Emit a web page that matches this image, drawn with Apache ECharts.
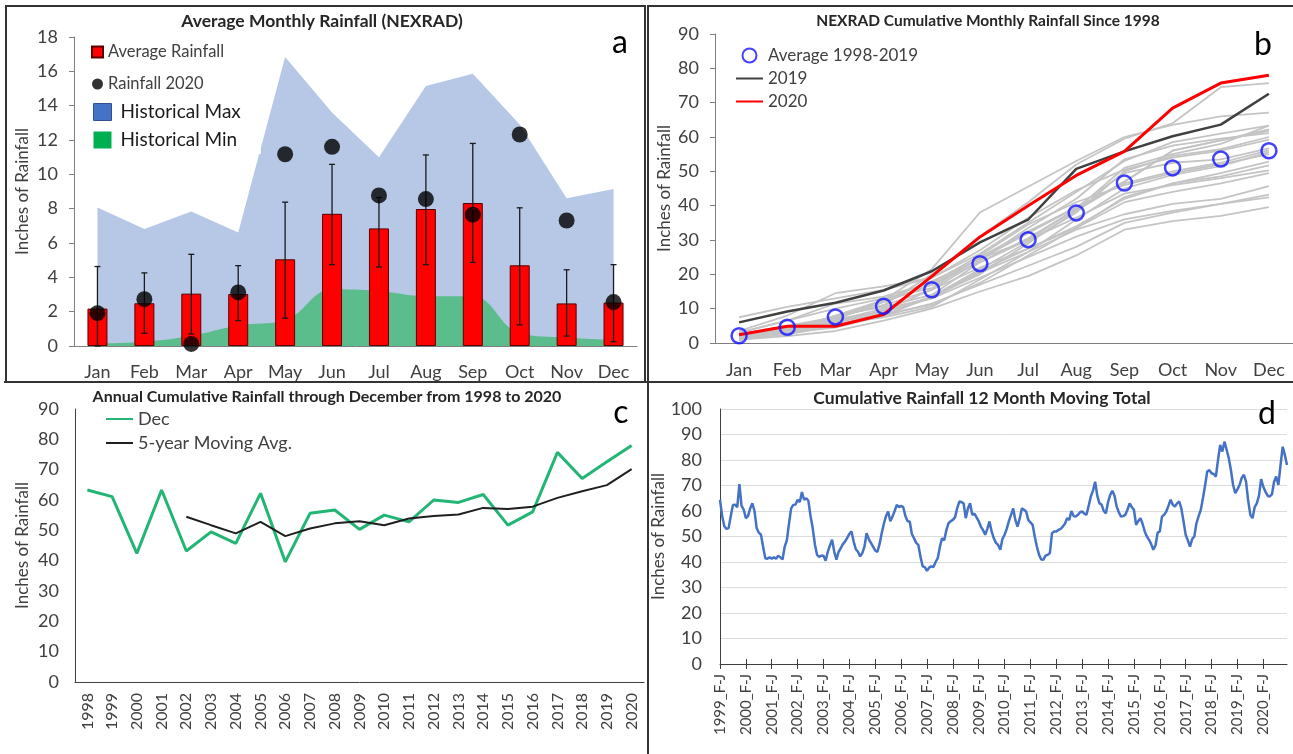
<!DOCTYPE html>
<html>
<head>
<meta charset="utf-8">
<script src="https://cdn.jsdelivr.net/npm/echarts@6/dist/echarts.min.js"></script>
<style>
  html, body { margin: 0; padding: 0; background: #fff; }
  #chart { width: 1293px; height: 754px; }
</style>
</head>
<body>
<div id="chart"></div>
<script>
// ---------- Panel a: average monthly rainfall ----------
const months = ['Jan', 'Feb', 'Mar', 'Apr', 'May', 'Jun', 'Jul', 'Aug', 'Sep', 'Oct', 'Nov', 'Dec'];
const avgRain  = [2.18, 2.49, 3.05, 3.03, 5.05, 7.70, 6.85, 7.98, 8.33, 4.70, 2.48, 2.53];
const errLow   = [0.00, 0.74, 0.70, 1.48, 1.62, 4.74, 4.60, 4.74, 4.87, 1.23, 0.58, 0.25];
const errHigh  = [4.63, 4.26, 5.34, 4.68, 8.38, 10.58, 8.65, 11.13, 11.80, 8.05, 4.44, 4.74];
const rain2020 = [1.91, 2.73, 0.12, 3.12, 11.17, 11.60, 8.77, 8.56, 7.65, 12.32, 7.31, 2.56];
const histMax  = [8.07, 6.81, 7.84, 6.61, 16.83, 13.60, 11.00, 15.14, 15.86, 12.90, 8.60, 9.14];
const histMin  = [0.15, 0.25, 0.60, 1.20, 1.50, 3.30, 3.20, 2.90, 2.90, 0.75, 0.50, 0.35];

// ---------- Panel b: cumulative monthly rainfall ----------
const avg9819 = [2.1, 4.6, 7.6, 10.7, 15.5, 23.1, 30.1, 37.9, 46.6, 51.0, 53.6, 56.0];
const cum2019 = [6.0, 9.2, 11.7, 15.3, 20.9, 29.3, 35.9, 50.7, 55.8, 60.2, 63.6, 72.6];
const cum2020 = [2.4, 4.9, 4.9, 8.3, 19.4, 30.9, 40.0, 48.8, 55.8, 68.4, 75.7, 78.0];
const pastYearLabels = ['1998', '1999', '2000', '2001', '2002', '2003', '2004', '2005', '2006', '2007',
  '2008', '2009', '2010', '2011', '2012', '2013', '2014', '2015', '2016', '2017', '2018'];
const pastYears = [
  [3.5, 8.0, 14.5, 16.5, 19.0, 26.0, 35.0, 44.0, 53.0, 58.5, 61.0, 63.3],
  [1.5, 3.5, 6.0, 9.5, 15.5, 24.0, 33.5, 42.0, 53.5, 57.5, 59.5, 61.1],
  [1.0, 2.5, 5.0, 8.0, 11.5, 17.0, 22.5, 28.0, 35.0, 38.0, 40.5, 42.4],
  [2.0, 3.5, 8.0, 10.5, 14.0, 23.5, 30.0, 39.0, 51.0, 55.0, 58.0, 63.3],
  [2.5, 4.0, 6.5, 10.0, 13.0, 19.0, 25.0, 31.0, 36.0, 38.5, 40.5, 43.2],
  [0.8, 3.5, 7.0, 9.0, 13.0, 21.0, 27.5, 33.5, 41.0, 44.0, 46.5, 49.5],
  [2.0, 3.0, 4.5, 8.0, 13.5, 20.5, 26.5, 33.0, 37.5, 40.5, 42.0, 45.7],
  [1.5, 3.5, 6.5, 9.0, 13.5, 20.0, 29.0, 38.5, 47.0, 56.0, 59.0, 62.2],
  [1.0, 2.0, 3.5, 6.5, 10.0, 15.0, 19.5, 25.5, 33.0, 35.5, 37.0, 39.6],
  [1.5, 3.0, 5.5, 7.5, 10.5, 18.5, 26.5, 36.0, 45.0, 49.0, 51.5, 55.6],
  [3.0, 6.5, 10.0, 13.0, 16.0, 25.0, 32.5, 39.5, 49.5, 52.5, 53.5, 56.7],
  [2.0, 3.5, 8.0, 12.5, 18.0, 24.5, 30.0, 36.5, 43.5, 46.0, 48.0, 50.3],
  [3.0, 6.5, 11.5, 13.5, 17.5, 25.5, 34.5, 41.0, 46.0, 49.5, 52.0, 55.0],
  [1.5, 3.5, 6.0, 8.5, 11.0, 17.5, 25.5, 33.5, 42.5, 46.5, 49.5, 52.8],
  [1.5, 3.0, 5.5, 8.0, 13.5, 21.5, 29.5, 38.0, 50.0, 54.5, 56.5, 60.0],
  [7.5, 10.5, 13.0, 15.5, 19.0, 27.0, 36.5, 44.5, 50.5, 54.0, 56.0, 59.2],
  [1.5, 3.5, 7.0, 12.0, 17.0, 23.5, 30.5, 39.0, 47.0, 56.0, 59.0, 61.8],
  [2.5, 5.0, 7.5, 11.0, 15.5, 22.0, 27.5, 34.0, 42.0, 46.5, 48.5, 51.7],
  [2.5, 4.5, 7.0, 12.0, 17.0, 24.5, 32.0, 39.5, 46.5, 50.0, 52.5, 56.1],
  [1.5, 4.0, 7.5, 11.0, 20.0, 31.0, 41.0, 52.0, 59.5, 64.0, 74.5, 75.7],
  [1.5, 4.5, 7.5, 12.5, 21.5, 38.0, 45.5, 53.0, 60.0, 63.5, 66.0, 67.1]
];

// ---------- Panel c: annual totals ----------
const years = ['1998', '1999', '2000', '2001', '2002', '2003', '2004', '2005', '2006', '2007', '2008', '2009',
  '2010', '2011', '2012', '2013', '2014', '2015', '2016', '2017', '2018', '2019', '2020'];
const decTotal = [63.3, 61.1, 42.4, 63.3, 43.2, 49.5, 45.7, 62.2, 39.6, 55.6, 56.7, 50.3,
  55.0, 52.8, 60.0, 59.2, 61.8, 51.7, 56.1, 75.7, 67.1, 72.6, 78.0];
const movAvg5 = [null, null, null, null, 54.5, 51.7, 49.0, 52.8, 48.1, 50.6, 52.3, 53.0,
  51.7, 53.9, 54.7, 55.2, 57.4, 57.0, 57.8, 60.7, 62.9, 64.9, 70.2];

// ---------- Panel d: 12-month moving total ----------
const windowYears = ['1999', '2000', '2001', '2002', '2003', '2004', '2005', '2006', '2007', '2008', '2009',
  '2010', '2011', '2012', '2013', '2014', '2015', '2016', '2017', '2018', '2019', '2020'];
const windowCodes = ['F-J', 'M-F', 'A-M', 'M-A', 'J-M', 'J-J', 'A-J', 'S-A', 'O-S', 'N-O', 'D-N', 'J-D'];
const movingTotal = [
  64.4, 58.0, 54.0, 53.0, 53.3, 58.0, 62.4, 62.5, 61.5, 70.5, 62.0, 60.5,
  57.2, 58.0, 61.0, 63.0, 60.0, 53.3, 51.5, 50.7, 46.0, 41.5, 41.3, 41.8,
  41.3, 41.8, 41.3, 42.5, 41.8, 41.0, 46.0, 48.5, 55.0, 61.0, 62.4, 62.5,
  64.4, 63.5, 67.4, 64.4, 65.0, 64.0, 58.0, 53.3, 47.0, 42.8, 42.0, 42.5,
  42.5, 40.5, 44.0, 46.5, 48.7, 44.0, 40.9, 44.0, 45.4, 47.0, 48.0, 49.5,
  51.0, 52.0, 48.0, 45.0, 44.0, 42.2, 43.5, 46.0, 51.3, 49.0, 47.5, 46.0,
  44.5, 44.0, 47.0, 51.3, 55.0, 58.0, 59.8, 56.0, 57.8, 60.0, 62.4, 61.5,
  62.0, 61.5, 58.0, 56.0, 55.9, 51.0, 49.3, 47.5, 46.7, 42.0, 38.3, 38.0,
  36.5, 37.8, 38.3, 38.0, 40.0, 41.5, 46.0, 49.3, 48.5, 52.5, 55.2, 56.0,
  56.5, 57.5, 61.0, 63.7, 63.5, 63.0, 57.2, 61.0, 63.0, 58.5, 59.0, 57.5,
  56.0, 53.9, 52.5, 50.7, 53.0, 55.9, 52.0, 49.3, 47.5, 46.7, 44.8, 49.0,
  50.7, 53.0, 56.0, 58.5, 61.0, 56.5, 53.9, 57.0, 61.0, 60.5, 59.8, 56.5,
  55.5, 54.6, 50.0, 46.0, 42.8, 41.0, 40.9, 42.5, 42.8, 43.5, 51.3, 52.0,
  52.0, 52.6, 53.0, 53.9, 55.0, 57.2, 56.5, 60.0, 58.0, 57.8, 58.5, 59.5,
  59.8, 59.0, 58.5, 62.0, 65.7, 68.0, 71.5, 66.0, 63.0, 62.5, 60.0, 59.1,
  63.5, 66.3, 67.9, 66.0, 61.7, 59.5, 57.8, 58.0, 58.5, 60.5, 63.0, 61.5,
  60.5, 54.6, 56.0, 57.2, 55.0, 52.0, 50.0, 48.7, 47.0, 44.8, 46.5, 51.5,
  52.0, 57.8, 58.5, 59.8, 62.0, 64.4, 62.5, 61.7, 63.0, 63.7, 61.0, 56.0,
  50.7, 48.5, 46.0, 49.0, 50.0, 55.2, 58.0, 60.4, 65.0, 70.0, 75.5, 76.0,
  74.8, 74.5, 73.5, 80.0, 85.9, 83.3, 87.2, 84.0, 80.7, 76.0, 70.2, 67.0,
  68.5, 70.2, 73.0, 74.2, 71.5, 64.0, 58.5, 57.2, 61.5, 63.0, 66.0, 72.5,
  69.5, 67.6, 66.0, 65.7, 66.5, 71.5, 73.5, 70.2, 78.0, 85.2, 82.0, 78.0
];
const windowLabels = [];
windowYears.forEach(y => windowCodes.forEach(c => windowLabels.push(y + '_' + c)));

// ---------- shared styles ----------
const FONT = 'Lato, "Open Sans", "DejaVu Sans", sans-serif';
const TXT = '#404040';
const AXIS = '#7f7f7f';

function valueAxis(grid, max, interval, nameGap, extra) {
  return Object.assign({
    type: 'value', gridIndex: grid, min: 0, max: max, interval: interval,
    name: 'Inches of Rainfall', nameLocation: 'middle', nameGap: nameGap,
    nameTextStyle: { fontSize: 17, color: TXT, fontFamily: FONT },
    axisLine: { show: true, lineStyle: { color: AXIS, width: 1 } },
    axisTick: { show: true, length: 5, lineStyle: { color: AXIS } },
    axisLabel: { fontSize: 18, color: TXT, fontFamily: FONT, margin: 16 },
    splitLine: { show: false }
  }, extra || {});
}

const chart = echarts.init(document.getElementById('chart'), null, { renderer: 'canvas' });

const grayLines = pastYears.map((vals, i) => ({
  name: pastYearLabels[i], type: 'line', xAxisIndex: 1, yAxisIndex: 1,
  data: vals, symbol: 'none', silent: true, z: 2,
  lineStyle: { color: '#c4c4c4', width: 1.8 }
}));

const hideSymbol = { opacity: 0 };

const option = {
  animation: false,
  backgroundColor: '#ffffff',
  textStyle: { fontFamily: FONT },
  title: [
    { text: 'Average Monthly Rainfall (NEXRAD)', left: 322, top: 12, textAlign: 'center', padding: 0,
      textStyle: { fontSize: 17.5, fontWeight: 'bold', color: '#262626', fontFamily: FONT } },
    { text: 'NEXRAD Cumulative Monthly Rainfall Since 1998', left: 988, top: 13, textAlign: 'center', padding: 0,
      textStyle: { fontSize: 15.5, fontWeight: 'bold', color: '#262626', fontFamily: FONT } },
    { text: 'Annual Cumulative Rainfall through December from 1998 to 2020', left: 327, top: 389, textAlign: 'center', padding: 0,
      textStyle: { fontSize: 16, fontWeight: 'bold', color: '#262626', fontFamily: FONT } },
    { text: 'Cumulative Rainfall 12 Month Moving Total', left: 982, top: 389, textAlign: 'center', padding: 0,
      textStyle: { fontSize: 17.5, fontWeight: 'bold', color: '#262626', fontFamily: FONT } },
    { text: 'a', left: 620, top: 27, textAlign: 'center', padding: 0, textStyle: { fontSize: 32, fontWeight: 'normal', color: '#000', fontFamily: FONT } },
    { text: 'b', left: 1263, top: 29, textAlign: 'center', padding: 0, textStyle: { fontSize: 32, fontWeight: 'normal', color: '#000', fontFamily: FONT } },
    { text: 'c', left: 621, top: 397, textAlign: 'center', padding: 0, textStyle: { fontSize: 32, fontWeight: 'normal', color: '#000', fontFamily: FONT } },
    { text: 'd', left: 1267, top: 398, textAlign: 'center', padding: 0, textStyle: { fontSize: 32, fontWeight: 'normal', color: '#000', fontFamily: FONT } }
  ],
  legend: [
    { left: 91, top: 43, orient: 'vertical', itemGap: 14, itemWidth: 11, itemHeight: 11, padding: 0,
      textStyle: { fontSize: 16.5, color: TXT, fontFamily: FONT, lineHeight: 18 },
      data: [{ name: 'Average Rainfall', icon: 'rect' }, { name: 'Rainfall 2020', icon: 'circle' }] },
    { left: 90, top: 98, orient: 'vertical', itemGap: 8, itemWidth: 18, itemHeight: 17,
      padding: [4, 20, 4, 3], backgroundColor: '#ffffff',
      textStyle: { fontSize: 19, color: '#1a1a1a', fontFamily: FONT, lineHeight: 20, padding: [0, 0, 0, 4] },
      data: [
        { name: 'Historical Max', icon: 'rect', itemStyle: { color: '#4472c4', borderColor: '#2f528f', borderWidth: 1 } },
        { name: 'Historical Min', icon: 'rect', itemStyle: { color: '#00b050', borderWidth: 0 } }
      ] },
    { left: 735, top: 47, orient: 'vertical', itemGap: 6, itemWidth: 27, itemHeight: 14, padding: 0,
      textStyle: { fontSize: 17, color: TXT, fontFamily: FONT, lineHeight: 16 },
      data: [{ name: 'Average 1998-2019' }, { name: '2019', itemStyle: hideSymbol }, { name: '2020', itemStyle: hideSymbol }] },
    { left: 105, top: 410, orient: 'vertical', itemGap: 6, itemWidth: 27, itemHeight: 14, padding: 0,
      textStyle: { fontSize: 18, color: TXT, fontFamily: FONT, lineHeight: 16 },
      data: [{ name: 'Dec', itemStyle: hideSymbol }, { name: '5-year Moving Avg.', itemStyle: hideSymbol }] }
  ],
  grid: [
    { left: 74, top: 37, width: 563, height: 309 },
    { left: 715, top: 34, width: 578, height: 309 },
    { left: 75, top: 409, width: 569, height: 273 },
    { left: 720, top: 409, width: 567, height: 255 }
  ],
  xAxis: [
    { type: 'category', gridIndex: 0, data: months, boundaryGap: true,
      axisLine: { lineStyle: { color: AXIS } }, axisTick: { length: 6, lineStyle: { color: AXIS } },
      axisLabel: { fontSize: 18, color: TXT, fontFamily: FONT, margin: 17 } },
    { type: 'category', gridIndex: 1, data: months, boundaryGap: true,
      axisLine: { lineStyle: { color: AXIS } }, axisTick: { length: 6, lineStyle: { color: AXIS } },
      axisLabel: { fontSize: 18, color: TXT, fontFamily: FONT, margin: 18 } },
    { type: 'category', gridIndex: 2, data: years, boundaryGap: true, position: 'bottom',
      axisLine: { lineStyle: { color: '#404040' } }, axisTick: { length: 5, lineStyle: { color: '#404040' } },
      axisLabel: { fontSize: 16, color: TXT, fontFamily: FONT, rotate: 90, margin: 11 } },
    { type: 'category', gridIndex: 2, data: years, boundaryGap: true, position: 'bottom',
      axisLine: { show: false }, axisLabel: { show: false },
      axisTick: { inside: true, length: 5, lineStyle: { color: '#404040' } } },
    { type: 'category', gridIndex: 3, data: windowLabels, boundaryGap: false, position: 'bottom',
      axisLine: { lineStyle: { color: '#404040' } },
      axisTick: { interval: 11, length: 5, lineStyle: { color: '#404040' } },
      axisLabel: { interval: 11, fontSize: 15, color: TXT, fontFamily: FONT, rotate: 90, margin: 10 } },
    { type: 'category', gridIndex: 3, data: windowLabels, boundaryGap: false, position: 'bottom',
      axisLine: { show: false }, axisLabel: { show: false },
      axisTick: { interval: 11, inside: true, length: 5, lineStyle: { color: '#404040' } } }
  ],
  yAxis: [
    valueAxis(0, 18, 2, 43),
    valueAxis(1, 90, 10, 42),
    valueAxis(2, 90, 10, 44, { axisLine: { show: true, lineStyle: { color: '#404040' } }, axisTick: { show: false } }),
    valueAxis(3, 100, 10, 47, { axisLine: { show: true, lineStyle: { color: '#404040' } }, axisTick: { show: false },
      axisLabel: { fontSize: 18, color: TXT, fontFamily: FONT, margin: 18 },
      splitLine: { show: true, lineStyle: { color: '#dcdcdc', width: 1 } } })
  ],
  series: [
    // panel a
    { name: 'Historical Max', type: 'line', xAxisIndex: 0, yAxisIndex: 0, data: histMax,
      symbol: 'none', silent: true, z: 1, lineStyle: { width: 0 }, itemStyle: { color: '#4472c4' },
      areaStyle: { color: '#b6c8e6', opacity: 1 } },
    { name: 'Historical Min', type: 'line', xAxisIndex: 0, yAxisIndex: 0, data: histMin, smooth: 0.4,
      symbol: 'none', silent: true, z: 1, lineStyle: { width: 0 }, itemStyle: { color: '#00b050' },
      areaStyle: { color: '#5cbd8c', opacity: 1 } },
    { name: 'Average Rainfall', type: 'bar', xAxisIndex: 0, yAxisIndex: 0, data: avgRain, barWidth: 20, z: 3,
      itemStyle: { color: '#ff0000', borderColor: '#5a0000', borderWidth: 1 } },
    { name: 'Error', type: 'custom', xAxisIndex: 0, yAxisIndex: 0, z: 4, silent: true,
      data: months.map((m, i) => [i, errLow[i], errHigh[i]]),
      renderItem: function (params, api) {
        const top = api.coord([api.value(0), api.value(2)]);
        const bot = api.coord([api.value(0), api.value(1)]);
        const cap = 3;
        const st = { stroke: '#1a1a1a', lineWidth: 1.3 };
        return { type: 'group', children: [
          { type: 'line', shape: { x1: top[0], y1: top[1], x2: bot[0], y2: bot[1] }, style: st },
          { type: 'line', shape: { x1: top[0] - cap, y1: top[1], x2: top[0] + cap, y2: top[1] }, style: st },
          { type: 'line', shape: { x1: bot[0] - cap, y1: bot[1], x2: bot[0] + cap, y2: bot[1] }, style: st }
        ] };
      } },
    { name: 'Rainfall 2020', type: 'scatter', xAxisIndex: 0, yAxisIndex: 0, data: rain2020, z: 5,
      symbol: 'circle', symbolSize: 16, itemStyle: { color: '#000000' } },

    // panel b
    ...grayLines,
    { name: '2019', type: 'line', xAxisIndex: 1, yAxisIndex: 1, data: cum2019, symbol: 'none', z: 3,
      lineStyle: { color: '#404040', width: 2.5 }, itemStyle: { color: '#404040' } },
    { name: '2020', type: 'line', xAxisIndex: 1, yAxisIndex: 1, data: cum2020, symbol: 'none', z: 4,
      lineStyle: { color: '#ff0000', width: 3 }, itemStyle: { color: '#ff0000' } },
    { name: 'Average 1998-2019', type: 'scatter', xAxisIndex: 1, yAxisIndex: 1, data: avg9819, z: 5,
      symbol: 'circle', symbolSize: 15,
      itemStyle: { color: 'rgba(255,255,255,0)', borderColor: '#1414ff', borderWidth: 2.5 } },

    // panel c
    { name: 'Dec', type: 'line', xAxisIndex: 2, yAxisIndex: 2, data: decTotal, symbol: 'none', z: 3,
      lineStyle: { color: '#22b574', width: 3 }, itemStyle: { color: '#22b574' } },
    { name: '5-year Moving Avg.', type: 'line', xAxisIndex: 2, yAxisIndex: 2, data: movAvg5, symbol: 'none', z: 4,
      lineStyle: { color: '#1f1f1f', width: 2 }, itemStyle: { color: '#1f1f1f' } },

    // panel d
    { name: 'Moving Total', type: 'line', xAxisIndex: 4, yAxisIndex: 3, data: movingTotal, symbol: 'none', z: 3,
      lineStyle: { color: '#4472c4', width: 2.5 } }
  ],
  graphic: [
    { type: 'polyline', silent: true, shape: { points: [[6, 381], [6, 6], [645, 6], [645, 381]] },
      style: { stroke: '#333', lineWidth: 2, fill: null } },
    { type: 'polyline', silent: true, shape: { points: [[648, 381], [648, 6], [1293, 6]] },
      style: { stroke: '#333', lineWidth: 2, fill: null } },
    { type: 'line', silent: true, shape: { x1: 4, y1: 382, x2: 1293, y2: 382 },
      style: { stroke: '#333', lineWidth: 2 } },
    { type: 'line', silent: true, shape: { x1: 648, y1: 382, x2: 648, y2: 754 },
      style: { stroke: '#333', lineWidth: 2 } }
  ]
};

chart.setOption(option);
</script>
</body>
</html>
